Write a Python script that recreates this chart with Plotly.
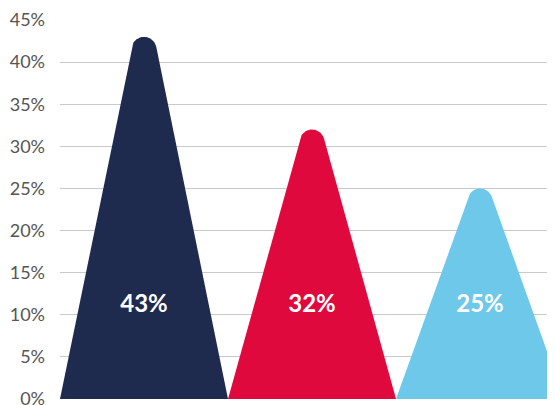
import plotly.graph_objects as go
import numpy as np

# ---- data ----
categories = ["A", "B", "C"]
values = [43, 32, 25]
labels = ["43%", "32%", "25%"]
colors = ["#1f2a4f", "#e0093e", "#6dc8ea"]
y_ticks = [0, 5, 10, 15, 20, 25, 30, 35, 40, 45]
y_ticktext = [f"{t}%" for t in y_ticks]

# ---- layout constants ----
W, H = 555, 405
M_L, M_R, M_T, M_B = 52, 0, 12, 14
X_RANGE = [-0.5, 2.494]
Y_RANGE = [0, 45]
X_PX = (W - M_L - M_R) / (X_RANGE[1] - X_RANGE[0])   # px per category unit
Y_PX = (H - M_T - M_B) / (Y_RANGE[1] - Y_RANGE[0])   # px per percent

# ---- shape style ----
BASE_HALF = 0.5      # half base width in category units
CAP_R = 12.5         # rounding radius of the peak, px
LABEL_LEVEL = 11     # label height in axis units


def peak_outline(i, v):
    B = BASE_HALF * X_PX
    h = v * Y_PX
    C = np.array([0.0, h - CAP_R])
    P = np.array([B, 0.0])
    d = C - P
    D = np.hypot(*d)
    L = np.sqrt(D**2 - CAP_R**2)
    a = np.arcsin(CAP_R / D)
    u = d / D
    rot = np.array([u[0] * np.cos(a) + u[1] * np.sin(a),
                    -u[0] * np.sin(a) + u[1] * np.cos(a)])
    T = P + L * rot  # right tangent point
    ang_r = np.arctan2(T[1] - C[1], T[0] - C[0])
    ang_l = np.pi - ang_r
    arc = np.linspace(ang_l, ang_r, 50)
    px = [-B] + list(C[0] + CAP_R * np.cos(arc)) + [B]
    py = [0.0] + list(C[1] + CAP_R * np.sin(arc)) + [0.0]
    xs = [i + x / X_PX for x in px]
    ys = [y / Y_PX for y in py]
    return xs, ys


fig = go.Figure()
for i, (cat, v, c) in enumerate(zip(categories, values, colors)):
    xs, ys = peak_outline(i, v)
    fig.add_trace(go.Scatter(x=xs, y=ys, mode="lines", fill="toself",
                             fillcolor=c, line=dict(width=0, color=c),
                             hoverinfo="skip", showlegend=False))

fig.add_trace(go.Scatter(
    x=list(range(len(categories))), y=[LABEL_LEVEL] * len(categories),
    mode="text", text=labels,
    textfont=dict(family="Lato, Open Sans, sans-serif", size=24, color="white", weight="bold"),
    hoverinfo="skip", showlegend=False))

fig.update_layout(
    width=W, height=H,
    margin=dict(l=M_L, r=M_R, t=M_T, b=M_B, autoexpand=False),
    paper_bgcolor="white", plot_bgcolor="white",
    xaxis=dict(range=X_RANGE, visible=False, fixedrange=True),
    yaxis=dict(range=Y_RANGE, tickvals=y_ticks, ticktext=y_ticktext,
               showgrid=True, gridcolor="#c9c9c9", gridwidth=1,
               zeroline=False, showline=False, ticks="",
               ticklabelstandoff=14,
               tickfont=dict(family="Lato, Open Sans, sans-serif", size=18, color="#555555"),
               fixedrange=True),
)

fig.write_html("out.html")
